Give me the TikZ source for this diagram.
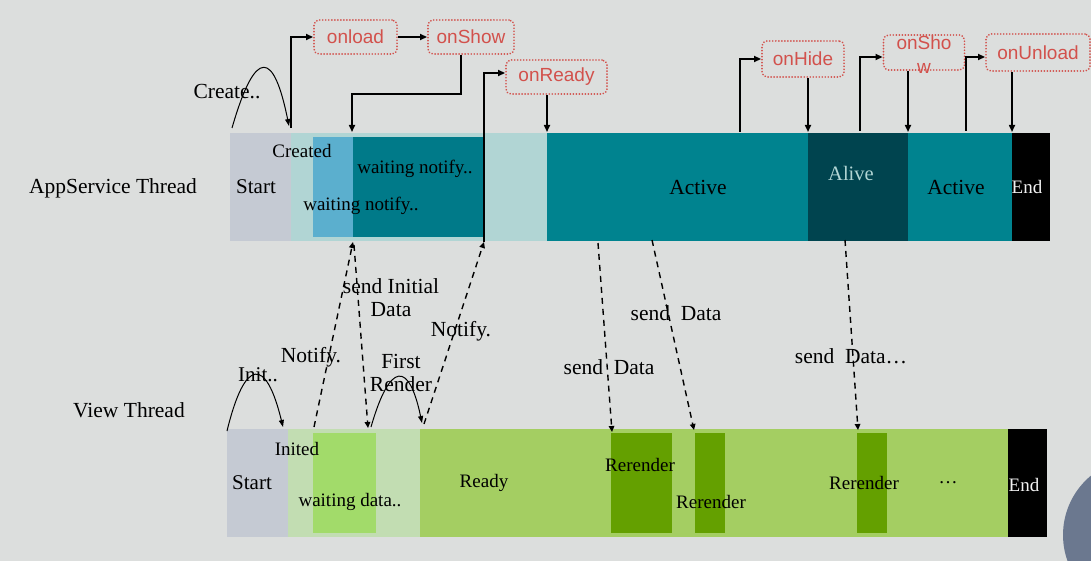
\documentclass[tikz,border=0pt]{standalone}
\usepackage{fontspec}
\setmainfont{Liberation Serif}
\newfontfamily\sansf{Liberation Sans}
\usetikzlibrary{arrows.meta}
\definecolor{bgc}{HTML}{DCDEDD}
\definecolor{startgray}{HTML}{C5CAD3}
\definecolor{lteal}{HTML}{B1D5D4}
\definecolor{sblue}{HTML}{5BAFCE}
\definecolor{dteal}{HTML}{007A89}
\definecolor{activec}{HTML}{00838F}
\definecolor{alivec}{HTML}{00444F}
\definecolor{lgreen}{HTML}{C2DDB2}
\definecolor{bgreen}{HTML}{A2DB6A}
\definecolor{readyc}{HTML}{A4CE62}
\definecolor{rerc}{HTML}{64A000}
\definecolor{redc}{HTML}{D2514C}
\definecolor{circc}{HTML}{6B788F}
\tikzset{
  lbl/.style={font=\fontsize{19}{20}\selectfont, inner sep=0pt, align=center},
  big/.style={font=\fontsize{21.5}{23}\selectfont, inner sep=0pt, align=center},
  evbox/.style={draw=redc, line width=1.9pt, dash pattern=on 0.01pt off 3pt, line cap=round, rounded corners=5pt, fill=bgc, text=redc, font=\sansf\fontsize{19}{24}\selectfont, inner sep=0pt, align=center},
  sarr/.style={line width=1.6pt, -{Triangle[length=7pt,width=6pt]}},
  darr/.style={line width=1.4pt, dash pattern=on 6pt off 5pt, -{Triangle[length=6pt,width=5.5pt]}},
  carr/.style={line width=1pt, -{Triangle[length=7pt,width=5pt]}},
}
\begin{document}
\begin{tikzpicture}[x=1pt,y=-1pt]
\fill[bgc] (0,0) rectangle (1091,561);
\useasboundingbox (0,0) rectangle (1091,561);
\begin{scope}
\clip (0,0) rectangle (1091,561);
\fill[circc] (1140,535) circle (77);
\end{scope}
% ---------- AppService bar
\fill[startgray] (230,133) rectangle (291,241);
\fill[lteal] (291,133) rectangle (547,241);
\fill[sblue] (313,137) rectangle (353,237);
\fill[dteal] (353,137) rectangle (484,237);
\fill[activec] (547,133) rectangle (808,241);
\fill[alivec] (808,133) rectangle (908,241);
\fill[activec] (908,133) rectangle (1012,241);
\fill[black] (1012,133) rectangle (1050,241);
\node[big] (appT) at (113,188) {AppService Thread};
\node[font=\fontsize{21}{22}\selectfont, inner sep=0pt] (aStart) at (256,187) {Start};
\node[lbl] (aCreated) at (302,151) {Created};
\node[lbl] (aWait1) at (415,169) {waiting notify..};
\node[lbl] (aWait2) at (361,206) {waiting notify..};
\node[big] (aAct1) at (698,187) {Active};
\node[font=\fontsize{20.5}{22}\selectfont, inner sep=0pt, text=lteal] (aAlive) at (851,173) {Alive};
\node[big] (aAct2) at (956,187) {Active};
\node[lbl, text=white!90!gray] (aEnd) at (1027,187) {End};
% ---------- View bar
\fill[startgray] (227,429) rectangle (288,537);
\fill[lgreen] (288,429) rectangle (420,537);
\fill[bgreen] (313,433) rectangle (376,533);
\fill[readyc] (420,429) rectangle (1008,537);
\fill[rerc] (611,433) rectangle (672,533);
\fill[rerc] (695,433) rectangle (725,533);
\fill[rerc] (857,433) rectangle (887,533);
\fill[black] (1008,429) rectangle (1047,537);
\node[big] (viewT) at (129,410) {View Thread};
\node[font=\fontsize{21}{22}\selectfont, inner sep=0pt] (vStart) at (252,483) {Start};
\node[lbl] (vInited) at (297,449) {Inited};
\node[lbl] (vWait) at (350,502) {waiting data..};
\node[lbl] (vReady) at (484,483) {Ready};
\node[lbl] (vR1) at (640,465) {Rerender};
\node[lbl] (vR2) at (711,502) {Rerender};
\node[lbl] (vR3) at (864,483) {Rerender};
\node[lbl] (vDots) at (948,483) {\dots};
\node[lbl, text=white!90!gray] (vEnd) at (1024,485) {End};
% ---------- event boxes
\node[evbox, minimum width=83pt, minimum height=34pt] (onload) at (355.5,37) {onload};
\node[evbox, minimum width=86pt, minimum height=34pt] (onShowA) at (471,37) {onShow};
\node[evbox, minimum width=101pt, minimum height=34pt] (onReady) at (556.5,77) {onReady};
\node[evbox, minimum width=82pt, minimum height=36pt] (onHide) at (803,59) {onHide};
\node[evbox, minimum width=81pt, minimum height=35pt] (onShowB) at (924,52.5) {};
\node[text=redc, font=\sansf\fontsize{19}{24}\selectfont, inner sep=0pt, align=center] (onShowBt) at (924,55) {onSho\\w};
\node[evbox, minimum width=104pt, minimum height=37pt] (onUnload) at (1038,52.5) {onUnload};
% ---------- coordinates
\coordinate (c1) at (291,128);
\coordinate (c2) at (352,132);
\coordinate (c3) at (484,242);
\coordinate (c4) at (547,132);
\coordinate (c5) at (740,132);
\coordinate (c6) at (808,132);
\coordinate (c7) at (860,131);
\coordinate (c8) at (908,132);
\coordinate (c9) at (966,131);
\coordinate (c10) at (1012,132);
% ---------- solid arrows
\draw[sarr] (c1) |- (onload.west);
\draw[sarr] (onload.east) -- (onShowA.west);
\draw[sarr] (onShowA.south -| 461,0) -- (461,94) -- (352,94) -- (c2);
\draw[sarr] (c3) -- (484,73) -- (onReady.west |- 0,73);
\draw[sarr] (onReady.south -| c4) -- (c4);
\draw[sarr] (c5) |- (onHide.west);
\draw[sarr] (onHide.south -| c6) -- (c6);
\draw[sarr] (c7) -- (860,57) -- (onShowB.west |- 0,57);
\draw[sarr] (onShowB.south -| c8) -- (c8);
\draw[sarr] (c9) -- (966,57) -- (onUnload.west |- 0,57);
\draw[sarr] (onUnload.south -| c10) -- (c10);
% ---------- curves
\coordinate (k1) at (232,128);
\coordinate (k2) at (289,126);
\draw[carr] (k1) .. controls (256,45) and (274,52) .. (k2);
\node[big] (create) at (227,92) {Create..};
\coordinate (k3) at (227,431);
\coordinate (k4) at (283,427);
\draw[carr] (k3) .. controls (245,357) and (266,357) .. (k4);
\node[font=\fontsize{21}{22}\selectfont, inner sep=0pt] (init) at (258,375) {Init..};
\coordinate (k5) at (371,427);
\coordinate (k6) at (422,423);
\draw[carr] (k5) .. controls (390,361) and (409,361) .. (k6);
\node[big] (first) at (401,373) {First\\Render};
% ---------- dashed arrows
\coordinate (d1a) at (314,427);
\coordinate (d1b) at (353,242);
\draw[darr] (d1a) -- (d1b);
\node[big] (n1) at (311,357) {Notify.};
\coordinate (d2a) at (354,245);
\coordinate (d2b) at (368,428);
\draw[darr] (d2a) -- (d2b);
\node[big] (sid) at (391,298) {send Initial\\Data};
\coordinate (d3a) at (424,424);
\draw[darr] (d3a) -- (c3);
\node[big] (n2) at (461,331) {Notify.};
\coordinate (d4a) at (598,243);
\coordinate (d4b) at (612,432);
\draw[darr] (d4a) -- (d4b);
\node[big] (sd1) at (609,367) {send\ \ Data};
\coordinate (d5a) at (652,240);
\coordinate (d5b) at (694,430);
\draw[darr] (d5a) -- (d5b);
\node[big] (sd2) at (676,313) {send\ \ Data};
\coordinate (d6a) at (845,240);
\coordinate (d6b) at (858,430);
\draw[darr] (d6a) -- (d6b);
\node[big] (sd3) at (851,356) {send\ \ Data\dots};
\end{tikzpicture}
\end{document}
